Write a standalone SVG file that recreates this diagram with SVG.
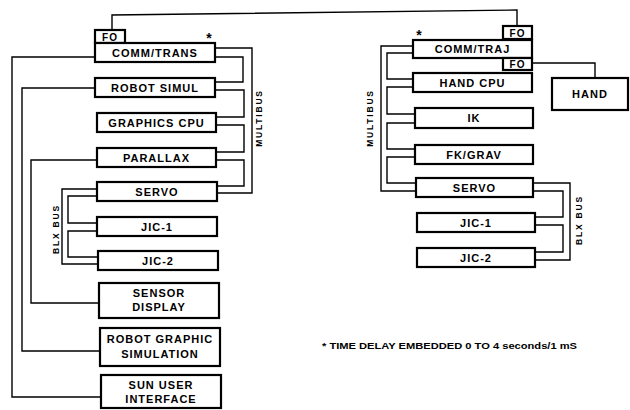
<svg xmlns="http://www.w3.org/2000/svg" width="630" height="410" viewBox="0 0 630 410">
<style>
.box{fill:#fff;stroke:#000;stroke-width:2.2}
.fo{fill:#fff;stroke:#000;stroke-width:2.2}
.lbl{font-family:"Liberation Sans",Arial,sans-serif;font-weight:bold;font-size:11px;letter-spacing:1px;text-anchor:middle;fill:#000}
.fol{font-family:"Liberation Sans",Arial,sans-serif;font-weight:bold;font-size:10px;letter-spacing:1px;text-anchor:middle;fill:#000}
.bus{font-family:"Liberation Sans",Arial,sans-serif;font-weight:bold;font-size:8.5px;letter-spacing:1.8px;text-anchor:middle;fill:#000}
.note{font-family:"Liberation Sans",Arial,sans-serif;font-weight:bold;font-size:9px;fill:#000}
.ast{font-family:"Liberation Sans",Arial,sans-serif;font-weight:bold;font-size:14px;text-anchor:middle;fill:#000}
.c{fill:none;stroke:#000;stroke-width:1.4}
</style>
<rect width="630" height="410" fill="#fff"/>
<g id="connectors">
<polyline class="c" points="112,30 112,15 517,10 517,26"/>
<polyline class="c" points="215,48 252,48 252,193 217,193"/>
<polyline class="c" points="215,57 243,57 243,82 215,82"/>
<polyline class="c" points="215,90 244,90 244,117 216,117"/>
<polyline class="c" points="216,125 244,125 244,152 216,152"/>
<polyline class="c" points="216,160 244,160 244,186 217,186"/>
<polyline class="c" points="97,189 62,189 62,264 98,264"/>
<polyline class="c" points="97,196 68,196 68,223 97,223"/>
<polyline class="c" points="97,231 68,231 68,257 98,257"/>
<polyline class="c" points="95,57 12,57 12,397 101,397"/>
<polyline class="c" points="95,88 22,88 22,351 100,351"/>
<polyline class="c" points="97,160 31,160 31,303 99,303"/>
<polyline class="c" points="413,46 381,46 381,191 416,191"/>
<polyline class="c" points="413,53 387,53 387,79 413,79"/>
<polyline class="c" points="413,87 387,87 387,114 415,114"/>
<polyline class="c" points="415,123 387,123 387,149 415,149"/>
<polyline class="c" points="415,157 387,157 387,183 416,183"/>
<polyline class="c" points="533,183 570,183 570,260 535,260"/>
<polyline class="c" points="533,191 563,191 563,217 535,217"/>
<polyline class="c" points="535,225 563,225 563,252 535,252"/>
<polyline class="c" points="532,63 595,63 595,78"/>
</g>
<g id="fo-left"><rect class="fo" x="95" y="30" width="30" height="13"/><text class="fol" x="110" y="40.5">FO</text></g>
<g id="comm-trans"><rect class="box" x="95" y="43" width="120" height="19"/><text class="lbl" x="155" y="56.5">COMM/TRANS</text></g>
<g id="robot-simul"><rect class="box" x="95" y="78" width="120" height="19"/><text class="lbl" x="155" y="91.5">ROBOT SIMUL</text></g>
<g id="graphics-cpu"><rect class="box" x="97" y="113" width="119" height="19"/><text class="lbl" x="156.5" y="126.5">GRAPHICS CPU</text></g>
<g id="parallax"><rect class="box" x="97" y="148" width="119" height="19"/><text class="lbl" x="156.5" y="161.5">PARALLAX</text></g>
<g id="servo-left"><rect class="box" x="97" y="182" width="120" height="19"/><text class="lbl" x="157" y="195.5">SERVO</text></g>
<g id="jic1-left"><rect class="box" x="97" y="217" width="120" height="19"/><text class="lbl" x="157" y="230.5">JIC-1</text></g>
<g id="jic2-left"><rect class="box" x="98" y="251" width="120" height="19"/><text class="lbl" x="158" y="264.5">JIC-2</text></g>
<g id="sensor-display"><rect class="box" x="99" y="283" width="120" height="35"/><text class="lbl" x="159" y="297">SENSOR</text><text class="lbl" x="159" y="311">DISPLAY</text></g>
<g id="robot-graphic-simulation"><rect class="box" x="100" y="328" width="120" height="38"/><text class="lbl" x="160" y="343">ROBOT GRAPHIC</text><text class="lbl" x="160" y="358">SIMULATION</text></g>
<g id="sun-user-interface"><rect class="box" x="101" y="375" width="120" height="33"/><text class="lbl" x="161" y="389">SUN USER</text><text class="lbl" x="161" y="403">INTERFACE</text></g>
<g id="fo-right-1"><rect class="fo" x="503" y="26" width="29" height="13"/><text class="fol" x="517.5" y="36.5">FO</text></g>
<g id="comm-traj"><rect class="box" x="413" y="40" width="119" height="18"/><text class="lbl" x="472.5" y="53">COMM/TRAJ</text></g>
<g id="fo-right-2"><rect class="fo" x="503" y="58" width="29" height="12"/><text class="fol" x="517.5" y="68">FO</text></g>
<g id="hand-cpu"><rect class="box" x="413" y="73" width="119" height="19"/><text class="lbl" x="472.5" y="86.5">HAND CPU</text></g>
<g id="hand"><rect class="box" x="552" y="78" width="76" height="32"/><text class="lbl" x="590" y="98">HAND</text></g>
<g id="ik"><rect class="box" x="415" y="108" width="118" height="20"/><text class="lbl" x="474" y="122">IK</text></g>
<g id="fk-grav"><rect class="box" x="415" y="145" width="118" height="19"/><text class="lbl" x="474" y="158.5">FK/GRAV</text></g>
<g id="servo-right"><rect class="box" x="416" y="178" width="117" height="19"/><text class="lbl" x="474.5" y="191.5">SERVO</text></g>
<g id="jic1-right"><rect class="box" x="417" y="213" width="118" height="19"/><text class="lbl" x="476" y="226.5">JIC-1</text></g>
<g id="jic2-right"><rect class="box" x="417" y="248" width="118" height="19"/><text class="lbl" x="476" y="261.5">JIC-2</text></g>
<g id="labels">
<text class="bus" transform="translate(262,118) rotate(-90)">MULTIBUS</text>
<text class="bus" transform="translate(59,229) rotate(-90)">BLX BUS</text>
<text class="bus" transform="translate(373,118) rotate(-90)">MULTIBUS</text>
<text class="bus" transform="translate(582,220) rotate(-90)">BLX BUS</text>
<text class="ast" x="209" y="43">*</text>
<text class="ast" x="419" y="40">*</text>
<text class="note" x="322" y="349" textLength="255" lengthAdjust="spacingAndGlyphs">* TIME DELAY EMBEDDED 0 TO 4 seconds/1 mS</text>
</g>
</svg>
